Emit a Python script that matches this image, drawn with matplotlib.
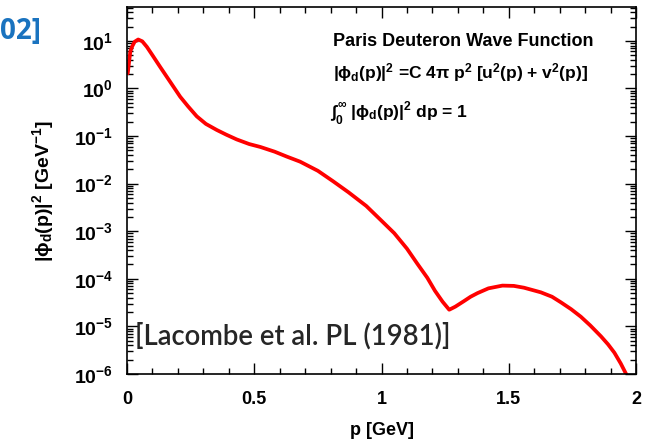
"""Paris deuteron momentum distribution |phi_d(p)|^2 on a log axis."""
import math
import matplotlib
matplotlib.use("Agg")
import matplotlib.pyplot as plt
from matplotlib.ticker import MultipleLocator, LogLocator, FuncFormatter, NullFormatter

plt.rcParams.update({"font.family": "Liberation Sans", "font.weight": "bold",
                     "axes.labelweight": "bold",
                     "mathtext.fontset": "custom",
                     "mathtext.rm": "Liberation Sans:bold",
                     "mathtext.it": "Liberation Sans:bold",
                     "mathtext.bf": "Liberation Sans:bold",
                     "mathtext.sf": "Liberation Sans:bold"})

# momentum p [GeV] and |phi_d(p)|^2 [GeV^-1]
P = [0.0, 0.003, 0.013, 0.02, 0.03, 0.044, 0.06, 0.078, 0.10, 0.13, 0.17, 0.209,
     0.24, 0.274, 0.31, 0.353, 0.39, 0.431, 0.48, 0.524, 0.58, 0.628, 0.68, 0.75,
     0.81, 0.87, 0.94, 1.0, 1.05, 1.10, 1.14, 1.18, 1.21, 1.24, 1.266, 1.29, 1.324,
     1.35, 1.377, 1.42, 1.475, 1.52, 1.56, 1.626, 1.67, 1.705, 1.745, 1.783, 1.82,
     1.862, 1.89, 1.915, 1.94, 1.961, 1.975]
PHI2 = [2.0, 2.1, 6.0, 7.6, 9.6, 10.7, 9.8, 7.5, 5.0, 2.85, 1.37, 0.67,
        0.42, 0.26, 0.18, 0.134, 0.107, 0.085, 0.068, 0.059, 0.047, 0.037, 0.029, 0.0186,
        0.0112, 0.0066, 0.0034, 1.66e-3, 9.1e-4, 4.3e-4, 2.1e-4, 1.05e-4, 5.6e-5, 3.3e-5, 2.24e-5, 2.6e-5, 3.4e-5,
        4.2e-5, 5.0e-5, 6.3e-5, 7.2e-5, 7.1e-5, 6.5e-5, 5.2e-5, 4.2e-5, 3.2e-5, 2.3e-5, 1.6e-5, 1.05e-5,
        6.2e-6, 4.2e-6, 2.8e-6, 1.66e-6, 1.0e-6, 6.8e-7]

fig = plt.figure(figsize=(6.53, 4.45), dpi=100)
ax = fig.add_axes([0.1945, 0.1596, 0.7795, 0.8244])
ax.plot(P, PHI2, color="#ff0000", lw=2.7, solid_capstyle="butt", solid_joinstyle="round")

ax.set_yscale("log")
ax.set_xlim(0, 2.0)
ax.set_ylim(1e-6, 10 ** 1.71)
ax.xaxis.set_major_locator(MultipleLocator(0.5))
ax.xaxis.set_minor_locator(MultipleLocator(0.1))
ax.xaxis.set_major_formatter(FuncFormatter(lambda v, _: f"{v:g}"))
ax.yaxis.set_major_locator(LogLocator(base=10, numticks=20))
ax.yaxis.set_minor_locator(LogLocator(base=10, subs=range(2, 10), numticks=20))
ax.yaxis.set_major_formatter(FuncFormatter(lambda v, _: r"$10^{%d}$" % round(math.log10(v))))
ax.yaxis.set_minor_formatter(NullFormatter())
ax.tick_params(which="both", direction="in", top=True, right=True, width=1)
ax.tick_params(which="major", length=8)
ax.tick_params(which="minor", length=4)
ax.tick_params(axis="y", which="major", labelsize=14, pad=10)
ax.tick_params(axis="x", which="major", labelsize=13, pad=12)
for s in ax.spines.values():
    s.set_linewidth(1.2)

ax.set_xlabel("p [GeV]", fontsize=13, labelpad=10)
ax.set_ylabel(r"$|\phi_d(p)|^2$ [GeV$^{-1}$]", fontsize=14, labelpad=13)

fig.text(0.51, 0.906, "Paris Deuteron Wave Function", fontsize=13, va="center")
fig.text(0.51, 0.836, r"$|\phi_d(p)|^2$ =C 4$\pi$ p$^2$ [u$^2$(p) + v$^2$(p)]",
         fontsize=12.5, va="center")
fig.text(0.506, 0.744, r"$\int_0^\infty$ $|\phi_d(p)|^2$ dp = 1", fontsize=12.5, va="center")

ax.text(0.015, 0.105, "[Lacombe et al. PL (1981)]", transform=ax.transAxes,
        fontsize=19.8, family="Lato", fontweight="semibold", color="#262626", va="center")
fig.text(0.0, 0.93, "02]", fontsize=20, family="Open Sans", fontweight="bold",
         color="#1a73bf", va="center")

fig.savefig("out.png", dpi=100)
